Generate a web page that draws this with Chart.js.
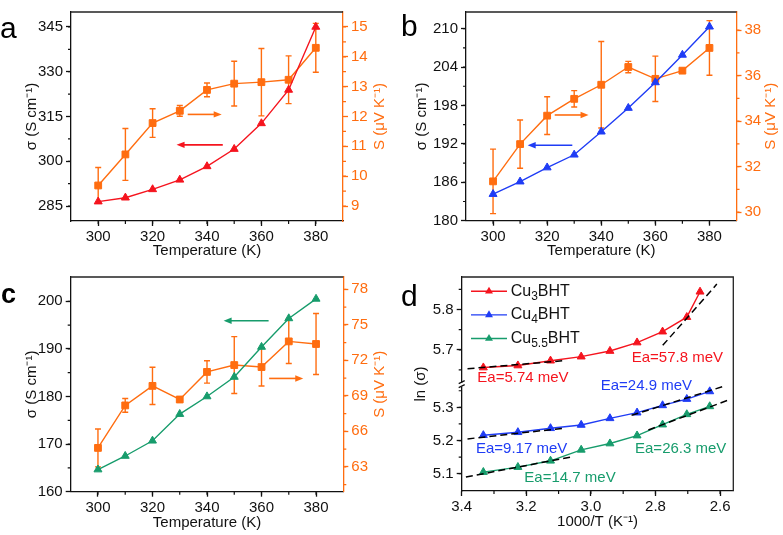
<!DOCTYPE html>
<html>
<head>
<meta charset="utf-8">
<script src="https://cdn.jsdelivr.net/npm/chart.js@4.4.1/dist/chart.umd.min.js"></script>
<style>
  html, body { margin: 0; padding: 0; background: #fff; }
  #page { position: relative; width: 783px; height: 535px; overflow: hidden; font-family: "Liberation Sans", Arial, sans-serif; }
  #page canvas { position: absolute; }
  .tag { position: absolute; font-size: 30px; line-height: 1; color: #000; }
</style>
</head>
<body>
<div id="page">
  <canvas id="chartA" width="392" height="262" style="left:0;top:0"></canvas>
  <canvas id="chartB" width="391" height="262" style="left:392px;top:0"></canvas>
  <canvas id="chartC" width="392" height="270" style="left:0;top:265px"></canvas>
  <canvas id="chartD" width="391" height="270" style="left:392px;top:265px"></canvas>
  <div class="tag" style="left:0;top:13px">a</div>
  <div class="tag" style="left:401px;top:11px">b</div>
  <div class="tag" style="left:1px;top:281px;font-weight:bold;font-size:27px">c</div>
  <div class="tag" style="left:401px;top:281px">d</div>
</div>
<script>
// temperatures (K) shared by panels a-c
const temps = [300, 310, 320, 330, 340, 350, 360, 370, 380];
const tempTicks = [300, 320, 340, 360, 380];

// a: Cu3BHT
const sigmaCu3 = [286.5, 287.8, 290.6, 293.8, 298.3, 304.1, 312.7, 323.9, 345.0];
const seebeckCu3 = [9.69, 10.73, 11.78, 12.19, 12.89, 13.10, 13.15, 13.23, 14.30];
const seebeckErrCu3 = [0.60, 0.87, 0.48, 0.18, 0.23, 0.75, 1.13, 0.80, 0.82];
const sigmaTicksA = [285, 300, 315, 330, 345];
const seebeckTicksA = [9, 10, 11, 12, 13, 14, 15];

// b: Cu4BHT
const sigmaCu4 = [184.15, 186.1, 188.3, 190.3, 193.9, 197.6, 201.6, 205.9, 210.3];
const seebeckCu4 = [31.35, 32.99, 34.24, 34.98, 35.60, 36.38, 35.86, 36.22, 37.22];
const seebeckErrCu4 = [1.42, 1.06, 0.83, 0.36, 1.90, 0.25, 1.00, 0.10, 1.20];
const sigmaTicksB = [180, 186, 192, 198, 204, 210];
const seebeckTicksB = [30, 32, 34, 36, 38];

// c: Cu5.5BHT
const sigmaCu55 = [164.65, 167.5, 170.7, 176.3, 180.0, 184.1, 190.4, 196.4, 200.5];
const seebeckCu55 = [64.60, 68.19, 69.84, 68.69, 71.02, 71.60, 71.43, 73.60, 73.38];
const seebeckErrCu55 = [1.60, 0.58, 1.57, 0.20, 0.95, 2.40, 1.60, 1.87, 2.58];
const sigmaTicksC = [160, 170, 180, 190, 200];
const seebeckTicksC = [63, 66, 69, 72, 75, 78];

// d: Arrhenius plot
const invT = [3.333, 3.226, 3.125, 3.030, 2.941, 2.857, 2.778, 2.703, 2.632];
const invTCu3 = [3.333, 3.226, 3.125, 3.030, 2.941, 2.857, 2.778, 2.703, 2.662];
const lnCu3 = [5.656, 5.661, 5.673, 5.683, 5.697, 5.718, 5.745, 5.781, 5.844];
const lnCu4 = [5.216, 5.225, 5.237, 5.247, 5.267, 5.284, 5.306, 5.325, 5.348];
const lnCu55 = [5.105, 5.120, 5.139, 5.172, 5.191, 5.215, 5.248, 5.279, 5.303];
const invTTicks = [3.4, 3.2, 3.0, 2.8, 2.6];
const lnTicksHigh = [5.7, 5.8];
const lnTicksLow = [5.1, 5.2, 5.3];

// linear fits (end points)
const fitCu3Low = [[3.382, 5.653], [3.085, 5.673]];
const fitCu3High = [[2.7775, 5.711], [2.610, 5.863]];
const fitCu4Low = [[3.382, 5.205], [3.085, 5.237]];
const fitCu4High = [[2.874, 5.276], [2.584, 5.365]];
const fitCu55Low = [[3.387, 5.090], [3.054, 5.152]];
const fitCu55High = [[2.822, 5.232], [2.577, 5.321]];

const RED = "#f5141e";
const BLUE = "#1f3cf5";
const GREEN = "#179c6c";
const ORANGE = "#ff6d10";
const INK = "#111";
const FONT = "\"Liberation Sans\", Arial, sans-serif";

Chart.defaults.font.family = FONT;
Chart.defaults.font.size = 15;
Chart.defaults.color = INK;

function pts(xs, ys) {
    return xs.map((x, i) => ({ x: x, y: ys[i] }));
}

function pairPts(pair) {
    return pair.map(p => ({ x: p[0], y: p[1] }));
}

function axis(o) {
    return {
        type: "linear",
        position: o.position,
        min: o.min,
        max: o.max,
        reverse: !!o.reverse,
        stack: o.stack,
        stackWeight: o.stackWeight || 1,
        weight: o.weight || 0,
        afterBuildTicks: scale => { scale.ticks = o.ticks.map(v => ({ value: v })); },
        afterFit: scale => {
            if (scale.isHorizontal()) scale.height = o.size;
            else scale.width = o.size;
        },
        border: { color: o.color, width: 1.3 },
        grid: { drawOnChartArea: false, drawTicks: true, tickLength: 5, tickWidth: 1.3, tickColor: o.color },
        ticks: {
            color: o.color,
            padding: o.tickPad === undefined ? 3 : o.tickPad,
            font: { size: 15 },
            autoSkip: false,
            maxRotation: 0,
            callback: o.fmt || (v => String(v))
        },
        title: { display: !!o.title, text: o.title, color: o.color, font: { size: 15 }, padding: o.titlePad || 0 }
    };
}

function minorTicks(steps) {
    return {
        id: "minorTicks",
        afterDraw(chart) {
            const ctx = chart.ctx;
            Object.keys(steps).forEach(id => {
                const s = chart.scales[id];
                const step = steps[id];
                const lo = Math.min(s.min, s.max);
                const hi = Math.max(s.min, s.max);
                ctx.save();
                ctx.strokeStyle = s.options.border.color;
                ctx.lineWidth = 1.2;
                ctx.beginPath();
                for (let k = Math.ceil(lo / step - 1e-6); k * step <= hi + 1e-9; k++) {
                    const p = s.getPixelForValue(k * step);
                    if (s.isHorizontal()) {
                        if (p < s.left + 1.5 || p > s.right - 1.5) continue;
                        ctx.moveTo(p, s.top);
                        ctx.lineTo(p, s.top + 3);
                    } else {
                        if (p < s.top + 1.5 || p > s.bottom - 1.5) continue;
                        const left = s.position === "left";
                        const x = left ? s.right : s.left;
                        ctx.moveTo(x, p);
                        ctx.lineTo(x + (left ? -3 : 3), p);
                    }
                }
                ctx.stroke();
                ctx.restore();
            });
        }
    };
}

const errorBars = {
    id: "errorBars",
    beforeDatasetDraw(chart, args) {
        const ds = chart.data.datasets[args.index];
        if (!ds.errors) return;
        const ys = chart.scales[args.meta.yAxisID];
        const ctx = chart.ctx;
        ctx.save();
        ctx.strokeStyle = ds.borderColor;
        ctx.lineWidth = 1.4;
        ctx.beginPath();
        args.meta.data.forEach((pt, i) => {
            const v = ds.data[i].y;
            const e = ds.errors[i];
            const t = ys.getPixelForValue(v + e);
            const b = ys.getPixelForValue(v - e);
            ctx.moveTo(pt.x, t); ctx.lineTo(pt.x, b);
            ctx.moveTo(pt.x - 3, t); ctx.lineTo(pt.x + 3, t);
            ctx.moveTo(pt.x - 3, b); ctx.lineTo(pt.x + 3, b);
        });
        ctx.stroke();
        ctx.restore();
    }
};

function arrows(list) {
    return {
        id: "arrows",
        afterDatasetsDraw(chart) {
            const ctx = chart.ctx;
            const xs = chart.scales.x;
            list.forEach(a => {
                const ys = chart.scales[a.axis];
                const x0 = xs.getPixelForValue(a.from);
                const x1 = xs.getPixelForValue(a.to);
                const y = ys.getPixelForValue(a.y);
                const dir = Math.sign(x1 - x0);
                ctx.save();
                ctx.strokeStyle = a.color;
                ctx.fillStyle = a.color;
                ctx.lineWidth = 1.6;
                ctx.beginPath();
                ctx.moveTo(x0, y);
                ctx.lineTo(x1 - dir * 5, y);
                ctx.stroke();
                ctx.beginPath();
                ctx.moveTo(x1, y);
                ctx.lineTo(x1 - dir * 8, y - 3.2);
                ctx.lineTo(x1 - dir * 8, y + 3.2);
                ctx.closePath();
                ctx.fill();
                ctx.restore();
            });
        }
    };
}

function frame(withRight) {
    return {
        id: "frame",
        afterDraw(chart) {
            const a = chart.chartArea;
            const ctx = chart.ctx;
            ctx.save();
            ctx.strokeStyle = "#222";
            ctx.lineWidth = 1.3;
            ctx.beginPath();
            ctx.moveTo(a.left, a.top);
            ctx.lineTo(a.right, a.top);
            if (withRight) ctx.lineTo(a.right, a.bottom);
            ctx.stroke();
            ctx.restore();
        }
    };
}

// right-hand title reads bottom-to-top like the left one
function rightTitle(text, color, offset) {
    return {
        id: "rightTitle",
        afterDraw(chart) {
            const s = chart.scales.y1;
            const a = chart.chartArea;
            const ctx = chart.ctx;
            ctx.save();
            ctx.fillStyle = color;
            ctx.font = "15px " + FONT;
            ctx.textAlign = "center";
            ctx.textBaseline = "middle";
            ctx.translate(s.right - offset, (a.top + a.bottom) / 2);
            ctx.rotate(-Math.PI / 2);
            ctx.fillText(text, 0, 0);
            ctx.restore();
        }
    };
}

function baseOptions(padding, scales) {
    return {
        responsive: false,
        animation: false,
        devicePixelRatio: 1,
        events: [],
        layout: { padding: padding },
        plugins: { legend: { display: false }, tooltip: { enabled: false } },
        elements: {
            line: { borderWidth: 1.4, tension: 0 },
            point: { borderWidth: 1, hoverRadius: 4.5 }
        },
        scales: scales
    };
}

function tempPanel(canvasId, g) {
    new Chart(document.getElementById(canvasId), {
        type: "line",
        data: {
            datasets: [
                {
                    data: pts(temps, g.sigma),
                    yAxisID: "y",
                    borderColor: g.color,
                    backgroundColor: g.color,
                    pointStyle: "triangle",
                    pointRadius: 4.6,
                    order: 0
                },
                {
                    data: pts(temps, g.seebeck),
                    errors: g.err,
                    yAxisID: "y1",
                    borderColor: ORANGE,
                    backgroundColor: ORANGE,
                    pointStyle: "rect",
                    pointRadius: 4.8,
                    order: 1
                }
            ]
        },
        options: baseOptions(g.padding, {
            x: axis({ position: "bottom", min: 290, max: 390, ticks: tempTicks, color: INK, size: g.xSize,
                      tickPad: 2, title: "Temperature (K)", titlePad: { bottom: g.xTitlePad } }),
            y: axis({ position: "left", min: g.sigmaRange[0], max: g.sigmaRange[1], ticks: g.sigmaTicks, color: INK,
                      size: g.leftSize, title: "σ (S cm⁻¹)", titlePad: { top: g.leftTitlePad } }),
            y1: axis({ position: "right", min: g.sRange[0], max: g.sRange[1], ticks: g.sTicks, color: ORANGE,
                       size: g.rightSize })
        }),
        plugins: [errorBars, minorTicks({ x: 10, y: g.sigmaMinor, y1: g.sMinor }), arrows(g.arrows), frame(false),
                  rightTitle("S (μV K⁻¹)", ORANGE, g.rightTitleOffset)]
    });
}

tempPanel("chartA", {
    sigma: sigmaCu3, seebeck: seebeckCu3, err: seebeckErrCu3, color: RED,
    sigmaRange: [280, 350], sigmaTicks: sigmaTicksA, sigmaMinor: 7.5,
    sRange: [8.5, 15.5], sTicks: seebeckTicksA, sMinor: 0.5,
    padding: { top: 2, left: 0, right: 0, bottom: 0 },
    leftSize: 71, rightSize: 49, xSize: 41,
    leftTitlePad: 23, rightTitleOffset: 12, xTitlePad: 2.5,
    arrows: [
        { axis: "y1", y: 12.07, from: 332.9, to: 345.4, color: ORANGE },
        { axis: "y", y: 305.5, from: 345.8, to: 328.8, color: RED }
    ]
});

tempPanel("chartB", {
    sigma: sigmaCu4, seebeck: seebeckCu4, err: seebeckErrCu4, color: BLUE,
    sigmaRange: [180, 212.6], sigmaTicks: sigmaTicksB, sigmaMinor: 3,
    sRange: [29.62, 38.8], sTicks: seebeckTicksB, sMinor: 1,
    padding: { top: 1, left: 0, right: 0, bottom: 0 },
    leftSize: 74, rightSize: 46.5, xSize: 41.3,
    leftTitlePad: 20.7, rightTitleOffset: 12, xTitlePad: 2.5,
    arrows: [
        { axis: "y1", y: 34.27, from: 322.8, to: 335.3, color: ORANGE },
        { axis: "y", y: 191.78, from: 329.3, to: 312.8, color: BLUE }
    ]
});

tempPanel("chartC", {
    sigma: sigmaCu55, seebeck: seebeckCu55, err: seebeckErrCu55, color: GREEN,
    sigmaRange: [160, 205.1], sigmaTicks: sigmaTicksC, sigmaMinor: 5,
    sRange: [60.9, 79.04], sTicks: seebeckTicksC, sMinor: 1.5,
    padding: { top: 6.7, left: 0, right: 0, bottom: 0 },
    leftSize: 70.7, rightSize: 48.7, xSize: 43.3,
    leftTitlePad: 22.7, rightTitleOffset: 12, xTitlePad: 2.7,
    arrows: [
        { axis: "y", y: 195.9, from: 362.6, to: 346.1, color: GREEN },
        { axis: "y1", y: 70.47, from: 362.8, to: 375.3, color: ORANGE }
    ]
});

// panel d annotations
const legendRows = [
    { color: RED, base: "Cu", sub: "3", tail: "BHT" },
    { color: BLUE, base: "Cu", sub: "4", tail: "BHT" },
    { color: GREEN, base: "Cu", sub: "5.5", tail: "BHT" }
];
const eaLabels = [
    { text: "Ea=57.8 meV", x: 2.8735, y: 5.679, axis: "yTop", color: RED },
    { text: "Ea=5.74 meV", x: 3.3517, y: 5.6305, axis: "yTop", color: RED },
    { text: "Ea=24.9 meV", x: 2.9695, y: 5.3647, axis: "yBot", color: BLUE },
    { text: "Ea=9.17 meV", x: 3.3557, y: 5.1753, axis: "yBot", color: BLUE },
    { text: "Ea=26.3 meV", x: 2.8633, y: 5.1753, axis: "yBot", color: GREEN },
    { text: "Ea=14.7 meV", x: 3.2061, y: 5.0882, axis: "yBot", color: GREEN }
];

function triangle(ctx, x, y, r) {
    ctx.beginPath();
    ctx.moveTo(x, y - r);
    ctx.lineTo(x + r * 0.866, y + r * 0.5);
    ctx.lineTo(x - r * 0.866, y + r * 0.5);
    ctx.closePath();
    ctx.fill();
}

const panelDExtras = {
    id: "panelDExtras",
    afterDraw(chart) {
        const ctx = chart.ctx;
        const a = chart.chartArea;
        const xs = chart.scales.x;
        ctx.save();

        // axis break on the left spine
        const yb = chart.scales.yTop.bottom;
        ctx.fillStyle = "#fff";
        ctx.fillRect(a.left - 4, yb - 2, 8, 4);
        ctx.strokeStyle = INK;
        ctx.lineWidth = 1.2;
        ctx.beginPath();
        ctx.moveTo(a.left - 3, yb - 1); ctx.lineTo(a.left + 3, yb - 4);
        ctx.moveTo(a.left - 3, yb + 3); ctx.lineTo(a.left + 3, yb);
        ctx.stroke();

        // y title across both segments
        ctx.fillStyle = INK;
        ctx.font = "15px " + FONT;
        ctx.textAlign = "center";
        ctx.textBaseline = "middle";
        ctx.translate(28.7, (a.top + a.bottom) / 2);
        ctx.rotate(-Math.PI / 2);
        ctx.fillText("ln (σ)", 0, 0);
        ctx.setTransform(1, 0, 0, 1, 0, 0);

        // Ea labels
        ctx.textAlign = "left";
        eaLabels.forEach(l => {
            ctx.fillStyle = l.color;
            ctx.fillText(l.text, xs.getPixelForValue(l.x), chart.scales[l.axis].getPixelForValue(l.y));
        });

        // legend
        legendRows.forEach((row, i) => {
            const y = a.top + 14.3 + i * 23.6;
            const x0 = a.left + 9.3;
            ctx.strokeStyle = row.color;
            ctx.fillStyle = row.color;
            ctx.lineWidth = 1.4;
            ctx.beginPath();
            ctx.moveTo(x0, y); ctx.lineTo(x0 + 36, y);
            ctx.stroke();
            triangle(ctx, x0 + 18, y, 4.6);
            ctx.fillStyle = INK;
            let tx = a.left + 49;
            ctx.font = "16px " + FONT;
            ctx.fillText(row.base, tx, y);
            tx += ctx.measureText(row.base).width;
            ctx.font = "12px " + FONT;
            ctx.fillText(row.sub, tx, y + 5);
            tx += ctx.measureText(row.sub).width;
            ctx.font = "16px " + FONT;
            ctx.fillText(row.tail, tx, y);
        });
        ctx.restore();
    }
};

function fitSet(pair, axisId) {
    return {
        data: pairPts(pair),
        yAxisID: axisId,
        borderColor: "#000",
        borderWidth: 1.5,
        borderDash: [7, 4],
        pointRadius: 0,
        order: 0
    };
}

function arrSet(xs, ys, color, axisId) {
    return {
        data: pts(xs, ys),
        yAxisID: axisId,
        borderColor: color,
        backgroundColor: color,
        pointStyle: "triangle",
        pointRadius: 4.6,
        order: 1
    };
}

const fmt1 = v => v.toFixed(1);

new Chart(document.getElementById("chartD"), {
    type: "line",
    data: {
        datasets: [
            fitSet(fitCu3Low, "yTop"), fitSet(fitCu3High, "yTop"),
            fitSet(fitCu4Low, "yBot"), fitSet(fitCu4High, "yBot"),
            fitSet(fitCu55Low, "yBot"), fitSet(fitCu55High, "yBot"),
            arrSet(invTCu3, lnCu3, RED, "yTop"),
            arrSet(invT, lnCu4, BLUE, "yBot"),
            arrSet(invT, lnCu55, GREEN, "yBot")
        ]
    },
    options: baseOptions({ top: 6.7, left: 0, right: 49.7, bottom: 0 }, {
        x: axis({ position: "bottom", min: 2.559, max: 3.4, reverse: true, ticks: invTTicks, color: INK, size: 44,
                  tickPad: 2, fmt: fmt1, title: "1000/T (K⁻¹)", titlePad: { bottom: 4.3 } }),
        yBot: axis({ position: "left", min: 5.048, max: 5.3685, ticks: lnTicksLow, color: INK, size: 69.7,
                     fmt: fmt1, stack: "ln", stackWeight: 109, weight: 1 }),
        yTop: axis({ position: "left", min: 5.6136, max: 5.8806, ticks: lnTicksHigh, color: INK, size: 69.7,
                     fmt: fmt1, stack: "ln", stackWeight: 110.3, weight: 2 })
    }),
    plugins: [minorTicks({ x: 0.1, yTop: 0.05, yBot: 0.05 }), frame(true), panelDExtras]
});
</script>
</body>
</html>
